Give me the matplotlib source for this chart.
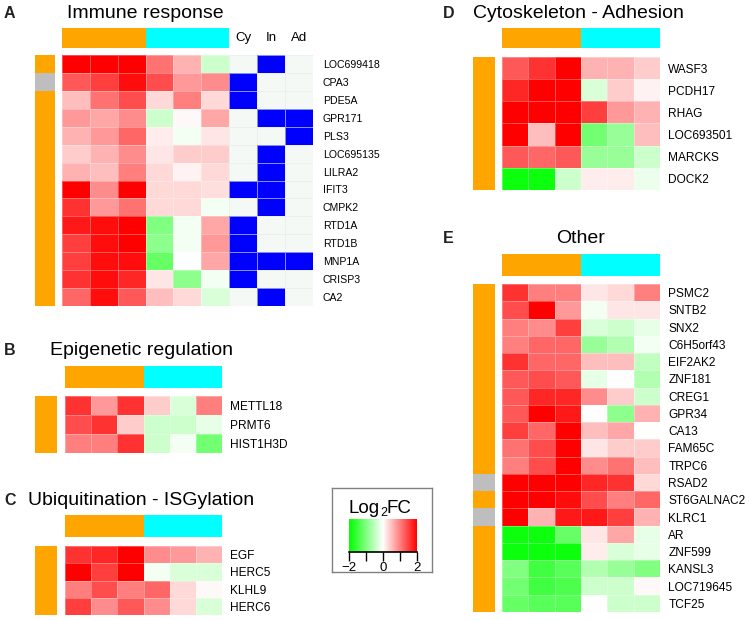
import numpy as np
import matplotlib
matplotlib.use("Agg")
import matplotlib.pyplot as plt
from matplotlib.colors import ListedColormap, LinearSegmentedColormap, Normalize
from matplotlib.cm import ScalarMappable

plt.rcParams['font.family'] = ['Liberation Sans', 'DejaVu Sans']

# ---- data ----
col_groups = [0, 0, 0, 1, 1, 1]          # 0 = orange group, 1 = cyan group

genes_a = ['LOC699418', 'CPA3', 'PDE5A', 'GPR171', 'PLS3', 'LOC695135', 'LILRA2',
           'IFIT3', 'CMPK2', 'RTD1A', 'RTD1B', 'MNP1A', 'CRISP3', 'CA2']
fc_a = [[2.0, 2.0, 2.0, 1.1, 0.6, -0.4],
        [1.3, 1.5, 1.9, 1.4, 0.8, 0.9],
        [0.5, 1.1, 1.4, 0.3, 1.0, 0.3],
        [0.8, 0.7, 0.9, -0.4, 0.05, 0.7],
        [0.6, 0.8, 1.2, 0.15, -0.1, 0.2],
        [0.4, 0.6, 0.9, 0.2, 0.4, 0.4],
        [0.6, 0.5, 1.0, 0.3, 0.1, 0.3],
        [2.0, 0.9, 2.0, 0.3, 0.3, 0.25],
        [1.6, 0.8, 1.1, 0.3, 0.3, -0.1],
        [1.8, 1.9, 2.0, -1.0, -0.1, 0.7],
        [1.5, 1.9, 2.0, -0.9, -0.1, 0.8],
        [1.5, 1.9, 1.9, -1.2, 0.0, 0.7],
        [1.6, 1.9, 1.7, 0.2, -0.9, -0.1],
        [1.2, 1.9, 1.3, 0.5, 0.3, -0.3]]
annot_names = ['Cy', 'In', 'Ad']
annot_a = [[0, 1, 0], [1, 0, 0], [1, 0, 0], [0, 1, 1], [0, 0, 1], [0, 1, 0], [0, 1, 0],
           [1, 1, 0], [0, 1, 0], [1, 0, 0], [1, 0, 0], [1, 1, 1], [1, 0, 0], [0, 1, 0]]
side_a = [0, 1, 0, 0, 0, 0, 0, 0, 0, 0, 0, 0, 0, 0]   # 0 = orange, 1 = grey

genes_b = ['METTL18', 'PRMT6', 'HIST1H3D']
fc_b = [[1.6, 0.8, 1.6, 0.4, -0.3, 1.0],
        [1.4, 1.6, 0.4, -0.4, -0.4, -0.2],
        [1.0, 1.0, 1.6, -0.4, -0.1, -1.1]]
side_b = [0, 0, 0]

genes_c = ['EGF', 'HERC5', 'KLHL9', 'HERC6']
fc_c = [[1.6, 1.7, 2.0, 0.9, 0.8, 0.6],
        [2.0, 1.5, 2.0, -0.1, -0.3, -0.3],
        [1.0, 1.4, 1.0, 1.2, 0.3, 0.05],
        [1.5, 0.9, 1.3, 0.9, 0.3, -0.3]]
side_c = [0, 0, 0, 0]

genes_d = ['WASF3', 'PCDH17', 'RHAG', 'LOC693501', 'MARCKS', 'DOCK2']
fc_d = [[1.3, 1.6, 2.0, 0.6, 0.6, 0.4],
        [1.7, 2.0, 2.0, -0.3, 0.4, 0.1],
        [2.0, 2.0, 2.0, 1.5, 0.8, 0.6],
        [2.0, 0.5, 2.0, -1.1, -0.8, 0.5],
        [1.3, 1.2, 1.3, -0.8, -0.8, -0.4],
        [-1.9, -1.9, -0.4, 0.15, 0.15, -0.15]]
side_d = [0, 0, 0, 0, 0, 0]

genes_e = ['PSMC2', 'SNTB2', 'SNX2', 'C6H5orf43', 'EIF2AK2', 'ZNF181', 'CREG1', 'GPR34',
           'CA13', 'FAM65C', 'TRPC6', 'RSAD2', 'ST6GALNAC2', 'KLRC1', 'AR', 'ZNF599',
           'KANSL3', 'LOC719645', 'TCF25']
fc_e = [[1.6, 1.0, 1.0, 0.2, 0.3, 1.0],
        [1.4, 2.0, 0.8, -0.1, 0.2, 0.2],
        [1.0, 0.9, 1.5, -0.3, -0.4, -0.2],
        [1.0, 1.2, 1.2, -0.8, -0.6, -0.1],
        [1.6, 1.2, 1.2, 0.5, 0.5, -0.5],
        [1.3, 1.4, 1.3, -0.2, 0.0, -0.6],
        [1.3, 1.7, 1.7, 0.9, 0.4, -0.4],
        [1.3, 2.0, 1.8, 0.0, -0.9, 0.6],
        [1.5, 1.2, 2.0, 0.5, 0.7, 0.0],
        [1.1, 1.4, 2.0, 0.2, 0.4, 0.4],
        [1.0, 1.4, 2.0, 0.9, 1.1, 0.5],
        [2.0, 2.0, 2.0, 1.7, 1.6, 0.3],
        [2.0, 2.0, 1.9, 1.4, 1.0, 1.2],
        [2.0, 0.6, 1.8, 1.8, 1.5, 0.6],
        [-1.9, -1.9, -1.2, 0.2, 0.7, -0.2],
        [-1.9, -1.9, -1.9, 0.15, -0.3, -0.2],
        [-1.0, -1.5, -1.3, -0.6, -0.8, -1.0],
        [-1.1, -1.5, -1.4, -0.4, -0.4, 0.05],
        [-1.2, -1.3, -1.3, 0.0, -0.4, -0.4]]
side_e = [0] * 11 + [1, 0, 1] + [0] * 5

# ---- styles ----
fc_cmap = LinearSegmentedColormap.from_list('gwr', ['#00FF00', '#FFFFFF', '#FF0000'])
group_cmap = ListedColormap(['#FFA500', '#00FFFF'])
side_cmap = ListedColormap(['#FFA500', '#BEBEBE'])
annot_cmap = ListedColormap(['#F5F9F5', '#0000FF'])
grid_col = (1, 1, 1, 0.3)

W, H = 750, 620
fig = plt.figure(figsize=(7.5, 6.2), dpi=100)


def box(x0, y0, x1, y1):
    ax = fig.add_axes([x0 / W, 1 - y1 / H, (x1 - x0) / W, (y1 - y0) / H])
    return ax


def clean(ax):
    ax.set_xticks([])
    ax.set_yticks([])
    for s in ax.spines.values():
        s.set_visible(False)


def heat(ax, vals):
    ax.pcolormesh(np.asarray(vals), cmap=fc_cmap, vmin=-2, vmax=2,
                  edgecolors=grid_col, linewidth=0.6)
    ax.invert_yaxis()
    clean(ax)


def row_labels(ax, labels, fs, pad):
    ax.yaxis.tick_right()
    ax.set_yticks(np.arange(len(labels)) + 0.5)
    ax.set_yticklabels(labels, fontsize=fs)
    ax.tick_params(axis='y', length=0, pad=pad)


def col_bar(ax):
    ax.pcolormesh(np.array([col_groups]), cmap=group_cmap, vmin=0, vmax=1)
    clean(ax)


def side_bar(ax, codes):
    ax.pcolormesh(np.array(codes).reshape(-1, 1), cmap=side_cmap, vmin=0, vmax=1)
    ax.invert_yaxis()
    clean(ax)


def title(x, y, letter, lx, text, ha='left'):
    fig.text(lx / W, 1 - y / H, letter, fontsize=11.5, fontweight='bold', va='baseline',
             color='#222222')
    fig.text(x / W, 1 - y / H, text, fontsize=14, va='baseline', ha=ha)


# ---- panel A ----
title(67, 18, 'A', 4, 'Immune response')
col_bar(box(62, 28, 229, 48))
side_bar(box(35, 55, 55, 306), side_a)
heat(box(62, 55, 229, 306), fc_a)
ax_an = box(229, 55, 313, 306)
ax_an.pcolormesh(np.asarray(annot_a), cmap=annot_cmap, vmin=0, vmax=1,
                 edgecolors=(0.9, 0.92, 0.9, 0.6), linewidth=0.6)
ax_an.invert_yaxis()
clean(ax_an)
row_labels(ax_an, genes_a, 7.6, 7)
ax_an.xaxis.tick_top()
ax_an.set_xticks(np.arange(len(annot_names)) + 0.5)
ax_an.set_xticklabels(annot_names, fontsize=9.5)
ax_an.tick_params(axis='x', length=0, pad=8)

# ---- panel B ----
title(50, 355, 'B', 4, 'Epigenetic regulation')
col_bar(box(65, 366, 222, 388))
side_bar(box(35, 396, 57, 453), side_b)
ax_b = box(65, 396, 222, 453)
heat(ax_b, fc_b)
row_labels(ax_b, genes_b, 8.6, 6)

# ---- panel C ----
title(28, 505, 'C', 4, 'Ubiquitination - ISGylation')
col_bar(box(65, 515, 222, 537))
side_bar(box(35, 546, 57, 615), side_c)
ax_c = box(65, 546, 222, 615)
heat(ax_c, fc_c)
row_labels(ax_c, genes_c, 8.6, 6)

# ---- panel D ----
title(473, 18, 'D', 443, 'Cytoskeleton - Adhesion')
col_bar(box(502, 28, 660, 48))
side_bar(box(473, 57, 495, 190), side_d)
ax_d = box(502, 57, 660, 190)
heat(ax_d, fc_d)
row_labels(ax_d, genes_d, 8.6, 6)

# ---- panel E ----
title(581, 243, 'E', 443, 'Other', ha='center')
col_bar(box(502, 254, 660, 276))
side_bar(box(473, 284, 495, 612), side_e)
ax_e = box(502, 284, 660, 612)
heat(ax_e, fc_e)
row_labels(ax_e, genes_e, 8.6, 6)

# ---- colour key ----
ax_key = box(332, 488, 432, 572)
ax_key.set_xticks([])
ax_key.set_yticks([])
for s in ax_key.spines.values():
    s.set_color('#808080')
    s.set_linewidth(1)
# "Log2FC" title built from three pieces so the subscript sits tight
fig.text(380 / W, 1 - 513 / H, 'Log', fontsize=13.5, ha='right', va='baseline')
fig.text(380.5 / W, 1 - 516.5 / H, '2', fontsize=9, ha='left', va='baseline')
fig.text(386.5 / W, 1 - 513 / H, 'FC', fontsize=13.5, ha='left', va='baseline')
cax = box(349, 519, 417, 552)
cb = fig.colorbar(ScalarMappable(norm=Normalize(-2, 2), cmap=fc_cmap), cax=cax,
                  orientation='horizontal', ticks=[-2, -1, 0, 1, 2])
cb.outline.set_visible(False)
cb.ax.set_xticklabels(['\u22122', '', '0', '', '2'], fontsize=9.5)
cb.ax.tick_params(axis='x', length=6.5, width=1, pad=1)
cax.axhline(0, color='black', lw=1.2, clip_on=False)

fig.savefig('out.png', dpi=100)
